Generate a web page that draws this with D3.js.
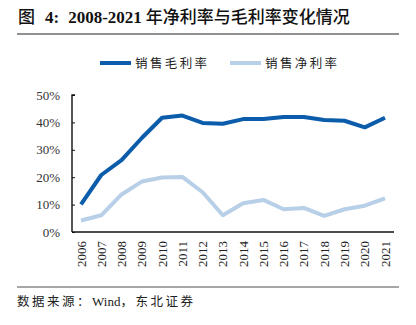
<!DOCTYPE html>
<html>
<head>
<meta charset="utf-8">
<script src="https://cdn.jsdelivr.net/npm/d3@7"></script>
<style>
  body { margin: 0; background: #fff; }
  svg { display: block; }
</style>
</head>
<body>
<div id="chart"></div>
<script>
var years = ["2006", "2007", "2008", "2009", "2010", "2011", "2012", "2013",
  "2014", "2015", "2016", "2017", "2018", "2019", "2020", "2021"];
// 销售毛利率 (%)
var grossMargin = [10.1, 20.8, 26.2, 34.3, 41.7, 42.5, 39.8, 39.5,
  41.2, 41.2, 42.0, 42.0, 40.9, 40.6, 38.2, 41.7];
// 销售净利率 (%)
var netMargin = [4.2, 6.1, 13.7, 18.4, 19.9, 20.1, 14.5, 6.1,
  10.5, 11.7, 8.3, 8.8, 5.9, 8.3, 9.6, 12.3];
var yTicks = [0, 10, 20, 30, 40, 50];
var seriesNames = ["销售毛利率", "销售净利率"];
var seriesColors = ["#0b5cab", "#b8cfe8"];

var W = 416, H = 325;
var svg = d3.select("#chart").append("svg").attr("width", W).attr("height", H);

var serif = "'Liberation Serif', 'Times New Roman', serif";
var cjk = "'Noto Sans CJK SC', sans-serif";

// 标题
var title = svg.append("text").attr("x", 18).attr("y", 23)
  .attr("font-size", 17).attr("font-weight", "bold").attr("fill", "#111");
title.append("tspan").attr("font-family", cjk).attr("font-weight", 500).text("图");
title.append("tspan").attr("font-family", serif).attr("dx", 10).text("4:");
title.append("tspan").attr("font-family", serif).attr("dx", 9).text("2008-2021");
title.append("tspan").attr("font-family", cjk).attr("font-weight", 500).attr("dx", 4)
  .attr("letter-spacing", 0).text("年净利率与毛利率变化情况");

svg.append("line").attr("x1", 17).attr("x2", 399).attr("y1", 34).attr("y2", 34)
  .attr("stroke", "#222").attr("stroke-width", 1);

// 图例
var legend = svg.append("g");
var legendX = [100, 230];
seriesNames.forEach(function (name, i) {
  legend.append("line").attr("x1", legendX[i]).attr("x2", legendX[i] + 31)
    .attr("y1", 63).attr("y2", 63)
    .attr("stroke", seriesColors[i]).attr("stroke-width", 4);
  legend.append("text").attr("x", legendX[i] + 35).attr("y", 67.5)
    .attr("font-family", cjk).attr("font-size", 12.5).attr("fill", "#222")
    .attr("letter-spacing", 2.4).text(name);
});

// 坐标轴
var x = d3.scalePoint().domain(years).range([81, 385]);
var y = d3.scaleLinear().domain([0, 50]).range([232, 95]);

var yAxis = svg.append("g").attr("transform", "translate(72,0)")
  .call(d3.axisRight(y).tickValues(yTicks).tickSize(3).tickFormat(""));
yAxis.select(".domain").attr("d", "M3," + y(50) + "H0V" + y(0));
yAxis.selectAll("line").attr("stroke", "#111");
yAxis.selectAll("path").attr("stroke", "#111").attr("stroke-width", 1.4);

svg.append("g").selectAll("text").data(yTicks).join("text")
  .attr("x", 60).attr("y", function (d) { return y(d) + 4.5; })
  .attr("text-anchor", "end").attr("font-family", serif).attr("font-size", 13)
  .attr("fill", "#333").text(function (d) { return d + "%"; });

svg.append("line").attr("x1", 72).attr("x2", 394)
  .attr("y1", y(0)).attr("y2", y(0)).attr("stroke", "#111").attr("stroke-width", 1.4);

svg.append("g").selectAll("text").data(years).join("text")
  .attr("transform", function (d) { return "translate(" + (x(d) + 4.5) + ",241) rotate(-90)"; })
  .attr("text-anchor", "end").attr("font-family", serif).attr("font-size", 13)
  .attr("fill", "#222").text(function (d) { return d; });

// 折线
var line = d3.line()
  .x(function (d, i) { return x(years[i]); })
  .y(function (d) { return y(d); });

[netMargin, grossMargin].forEach(function (vals) {
  var idx = vals === grossMargin ? 0 : 1;
  svg.append("path").datum(vals).attr("d", line)
    .attr("fill", "none").attr("stroke", seriesColors[idx])
    .attr("stroke-width", 4).attr("stroke-linejoin", "round");
});

// 数据来源
svg.append("line").attr("x1", 17).attr("x2", 399).attr("y1", 287).attr("y2", 287)
  .attr("stroke", "#888").attr("stroke-width", 1.5);
var src = svg.append("text").attr("x", 17).attr("y", 306).attr("font-size", 12.5).attr("fill", "#222");
src.append("tspan").attr("font-family", cjk).attr("letter-spacing", 2.5).text("数据来源：");
src.append("tspan").attr("font-family", serif).attr("font-size", 13).text("Wind");
src.append("tspan").attr("font-family", cjk).attr("letter-spacing", 2.5).text("，东北证券");
</script>
</body>
</html>
